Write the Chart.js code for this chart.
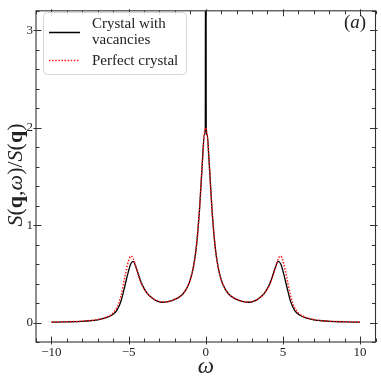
<!DOCTYPE html>
<html>
<head>
<meta charset="utf-8">
<script src="https://cdn.jsdelivr.net/npm/chart.js@4.4.1/dist/chart.umd.min.js"></script>
<style>
html,body{margin:0;padding:0;background:#fff;}
#wrap{width:381px;height:381px;position:relative;}
</style>
</head>
<body>
<div id="wrap"><canvas id="c" width="381" height="381"></canvas></div>
<script>
// ---- data ----
const omega = [-10,-9,-8,-7.5,-7,-6.5,-6.25,-6,-5.75,-5.5,-5.25,-5,-4.85,-4.7,-4.5,-4.25,-4,-3.75,-3.5,-3.25,-3,-2.75,-2.5,-2.25,-2,-1.75,-1.5,-1.25,-1,-0.8,-0.6,-0.4,-0.2,-0.1,-0.03,
  0,
  0.03,0.1,0.2,0.4,0.6,0.8,1,1.25,1.5,1.75,2,2.25,2.5,2.75,3,3.25,3.5,3.75,4,4.25,4.5,4.7,4.85,5,5.25,5.5,5.75,6,6.25,6.5,7,7.5,8,9,10];

const vacancies = [0.004,0.007,0.012,0.018,0.028,0.047,0.062,0.085,0.128,0.215,0.37,0.53,0.605,0.628,0.56,0.44,0.35,0.292,0.255,0.228,0.213,0.208,0.212,0.222,0.238,0.258,0.29,0.345,0.44,0.57,0.79,1.17,1.70,1.92,1.99,
  6.0,
  1.99,1.92,1.70,1.17,0.79,0.57,0.44,0.345,0.29,0.258,0.238,0.222,0.212,0.208,0.213,0.228,0.255,0.292,0.35,0.44,0.56,0.628,0.605,0.53,0.37,0.215,0.128,0.085,0.062,0.047,0.028,0.018,0.012,0.007,0.004];

const perfect = [0.005,0.008,0.014,0.02,0.031,0.052,0.07,0.098,0.155,0.27,0.46,0.635,0.682,0.655,0.555,0.43,0.345,0.29,0.255,0.23,0.215,0.21,0.212,0.222,0.238,0.258,0.29,0.345,0.44,0.57,0.79,1.17,1.70,1.92,1.99,
  2.0,
  1.99,1.92,1.70,1.17,0.79,0.57,0.44,0.345,0.29,0.258,0.238,0.222,0.212,0.21,0.215,0.23,0.255,0.29,0.345,0.43,0.555,0.655,0.682,0.635,0.46,0.27,0.155,0.098,0.07,0.052,0.031,0.02,0.014,0.008,0.005];

const seriesLabels = [['Crystal with','vacancies'], ['Perfect crystal']];
const xTicks = [-10,-5,0,5,10];
const yTicks = [0,1,2,3];
const xRange = [-11, 11];
const yRange = [-0.2, 3.2];
const panelLabel = 'a';

const SERIF = '"Liberation Serif", "DejaVu Serif", serif';

function pts(xs, ys){ return xs.map((x,i)=>({x:x, y:ys[i]})); }

const decor = {
  id:'decor',
  afterDatasetsDraw(chart){
    const ctx = chart.ctx, a = chart.chartArea, xs = chart.scales.x, ys = chart.scales.y;
    ctx.save();
    // frame
    ctx.strokeStyle = '#333'; ctx.lineWidth = 1.1;
    ctx.strokeRect(a.left, a.top, a.right-a.left, a.bottom-a.top);
    ctx.lineWidth = 1;
    ctx.beginPath();
    xTicks.forEach(v=>{
      const p = Math.round(xs.getPixelForValue(v))+0.5;
      ctx.moveTo(p, a.bottom+2.5); ctx.lineTo(p, a.bottom-5.5);
      ctx.moveTo(p, a.top-1.5); ctx.lineTo(p, a.top+5.5);
    });
    for(let v=Math.ceil(xRange[0]); v<=xRange[1]; v++){
      if (v%5===0) continue;
      const p = Math.round(xs.getPixelForValue(v))+0.5;
      ctx.moveTo(p, a.bottom); ctx.lineTo(p, a.bottom-3.5);
      ctx.moveTo(p, a.top); ctx.lineTo(p, a.top+3.5);
    }
    yTicks.forEach(v=>{
      const p = Math.round(ys.getPixelForValue(v))+0.5;
      ctx.moveTo(a.left-2.5, p); ctx.lineTo(a.left+5.5, p);
      ctx.moveTo(a.right+2, p); ctx.lineTo(a.right-5.5, p);
    });
    for(let k=-1; k<=16; k++){
      if (k%5===0) continue;
      const v = k*0.2;
      const p = Math.round(ys.getPixelForValue(v))+0.5;
      ctx.moveTo(a.left, p); ctx.lineTo(a.left+3.5, p);
      ctx.moveTo(a.right, p); ctx.lineTo(a.right-3.5, p);
    }
    ctx.stroke();

    // legend
    const lx=43.5, ly=12.5, lw=143, lh=62, r=4;
    ctx.beginPath();
    ctx.moveTo(lx+r,ly); ctx.lineTo(lx+lw-r,ly); ctx.quadraticCurveTo(lx+lw,ly,lx+lw,ly+r);
    ctx.lineTo(lx+lw,ly+lh-r); ctx.quadraticCurveTo(lx+lw,ly+lh,lx+lw-r,ly+lh);
    ctx.lineTo(lx+r,ly+lh); ctx.quadraticCurveTo(lx,ly+lh,lx,ly+lh-r);
    ctx.lineTo(lx,ly+r); ctx.quadraticCurveTo(lx,ly,lx+r,ly);
    ctx.closePath();
    ctx.fillStyle='rgba(255,255,255,0.85)'; ctx.fill();
    ctx.strokeStyle='#d6d6d6'; ctx.lineWidth=1; ctx.stroke();

    const ds = chart.data.datasets;
    ctx.beginPath(); ctx.strokeStyle=ds[0].borderColor; ctx.lineWidth=1.5; ctx.setLineDash([]);
    ctx.moveTo(49,32.5); ctx.lineTo(80,32.5); ctx.stroke();
    ctx.beginPath(); ctx.strokeStyle=ds[1].borderColor; ctx.lineWidth=1.4; ctx.setLineDash(ds[1].borderDash);
    ctx.moveTo(49,60.5); ctx.lineTo(80,60.5); ctx.stroke();
    ctx.setLineDash([]);
    ctx.fillStyle='#222'; ctx.font='15px '+SERIF; ctx.textBaseline='middle'; ctx.textAlign='left';
    ctx.fillText(seriesLabels[0][0], 92, 24);
    ctx.fillText(seriesLabels[0][1], 92, 40);
    ctx.fillText(seriesLabels[1][0], 92, 61);

    drawRuns(ctx, [['(', '19px'], [panelLabel, 'italic 19px'], [')', '19px']], 355, 23, false);
    drawRuns(ctx, [['ω','italic 23px']], (a.left+a.right)/2, 367, false);
    drawRuns(ctx, [['S','italic 22px'],['(','22px'],['q','bold 22px'],[',','22px'],['ω','italic 22px'],[')','22px'],['/','22px'],['S','italic 22px'],['(','22px'],['q','bold 22px'],[')','22px']], 16, 175, true);
    ctx.restore();
  }
};

function drawRuns(ctx, runs, cx, cy, rotate){
  ctx.save();
  ctx.fillStyle='#222'; ctx.textBaseline='middle'; ctx.textAlign='left';
  let total=0; const ws=[];
  runs.forEach(([t,f])=>{ ctx.font=f+' '+SERIF; const w=ctx.measureText(t).width; ws.push(w); total+=w; });
  ctx.translate(cx, cy);
  if (rotate) ctx.rotate(-Math.PI/2);
  let x=-total/2;
  runs.forEach(([t,f],i)=>{ ctx.font=f+' '+SERIF; ctx.fillText(t, x, 0); x+=ws[i]; });
  ctx.restore();
}

new Chart(document.getElementById('c'), {
  type:'line',
  data:{
    datasets:[
      { label: seriesLabels[0].join(' '), data: pts(omega, vacancies), borderColor:'#000000', borderWidth:1.3,
        pointRadius:0, fill:false, cubicInterpolationMode:'monotone', order:1 },
      { label: seriesLabels[1].join(' '), data: pts(omega, perfect), borderColor:'#ff1a1a', borderWidth:1.5,
        borderDash:[1.5,1.6], pointRadius:0, fill:false, cubicInterpolationMode:'monotone', order:0 }
    ]
  },
  options:{
    responsive:false, animation:false, devicePixelRatio:1,
    layout:{ padding:{ left:0, top:4.5, right:5.5, bottom:0 } },
    plugins:{ legend:{display:false}, tooltip:{enabled:false} },
    scales:{
      x:{ type:'linear', min:xRange[0], max:xRange[1],
        grid:{display:false, drawTicks:false}, border:{display:false},
        afterBuildTicks:(s)=>{ s.ticks = xTicks.map(v=>({value:v})); },
        afterFit:(s)=>{ s.height = 39; },
        ticks:{ padding:3, color:'#222', font:{family:SERIF, size:13},
          callback:(v)=> String(v).replace('-', '\u2212') } },
      y:{ type:'linear', min:yRange[0], max:yRange[1],
        grid:{display:false, drawTicks:false}, border:{display:false},
        afterBuildTicks:(s)=>{ s.ticks = yTicks.map(v=>({value:v})); },
        afterFit:(s)=>{ s.width = 36; },
        ticks:{ padding:3, color:'#222', font:{family:SERIF, size:13},
          callback:(v)=> String(v) } }
    }
  },
  plugins:[decor]
});
</script>
</body>
</html>
